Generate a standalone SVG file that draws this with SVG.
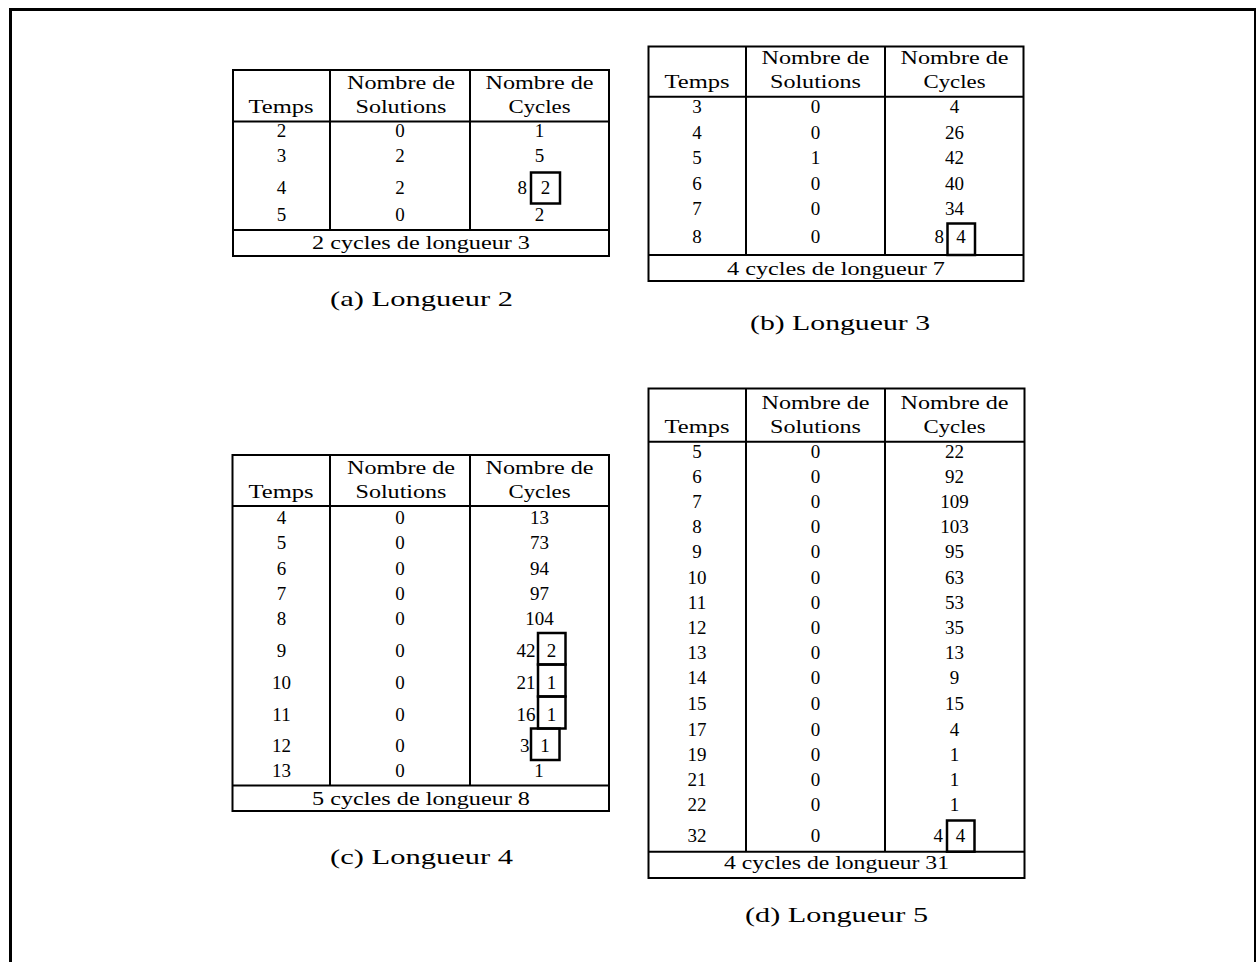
<svg xmlns="http://www.w3.org/2000/svg" width="1256" height="962" viewBox="0 0 1256 962">
<style>
text{font-family:"Liberation Serif","Times New Roman",serif;font-size:19px;fill:#000;text-anchor:middle}
text.e{text-anchor:end}
text.cap{font-size:22px}
.ln{stroke:#000;stroke-width:2;fill:none}
.bx{stroke:#000;stroke-width:2.5;fill:none}
</style>
<rect x="10.5" y="9.5" width="1245" height="1000" fill="#fff" stroke="#000" stroke-width="3"/>

<g id="table-a">
<rect class="ln" x="233" y="70" width="376" height="186"/>
<line class="ln" x1="233" y1="121.5" x2="609" y2="121.5"/>
<line class="ln" x1="330" y1="70" x2="330" y2="230"/>
<line class="ln" x1="470" y1="70" x2="470" y2="230"/>
<line class="ln" x1="233" y1="230" x2="609" y2="230"/>
<text x="401" y="89" textLength="108" lengthAdjust="spacingAndGlyphs">Nombre de</text>
<text x="539.5" y="89" textLength="108" lengthAdjust="spacingAndGlyphs">Nombre de</text>
<text x="281" y="113" textLength="65" lengthAdjust="spacingAndGlyphs">Temps</text>
<text x="401" y="113" textLength="91" lengthAdjust="spacingAndGlyphs">Solutions</text>
<text x="539.5" y="113" textLength="62" lengthAdjust="spacingAndGlyphs">Cycles</text>
<text x="281.5" y="137">2</text><text x="400" y="137">0</text><text x="539.5" y="137">1</text>
<text x="281.5" y="162">3</text><text x="400" y="162">2</text><text x="539.5" y="162">5</text>
<text x="281.5" y="194">4</text><text x="400" y="194">2</text><text class="e" x="527" y="194">8</text>
<rect class="bx" x="531" y="172.5" width="29" height="31"/><text x="545.5" y="194">2</text>
<text x="281.5" y="220.5">5</text><text x="400" y="220.5">0</text><text x="539.5" y="220.5">2</text>
<text x="421" y="249" textLength="218" lengthAdjust="spacingAndGlyphs">2 cycles de longueur 3</text>
<text class="cap" x="421.5" y="306" textLength="183" lengthAdjust="spacingAndGlyphs">(a) Longueur 2</text>
</g>

<g id="table-b">
<rect class="ln" x="648.5" y="46.5" width="375" height="234.5"/>
<line class="ln" x1="648.5" y1="96.7" x2="1023.5" y2="96.7"/>
<line class="ln" x1="746" y1="46.5" x2="746" y2="255"/>
<line class="ln" x1="885" y1="46.5" x2="885" y2="255"/>
<line class="ln" x1="648.5" y1="255" x2="1023.5" y2="255"/>
<text x="815.5" y="64" textLength="108" lengthAdjust="spacingAndGlyphs">Nombre de</text>
<text x="954.5" y="64" textLength="108" lengthAdjust="spacingAndGlyphs">Nombre de</text>
<text x="697" y="88.3" textLength="65" lengthAdjust="spacingAndGlyphs">Temps</text>
<text x="815.5" y="88.3" textLength="91" lengthAdjust="spacingAndGlyphs">Solutions</text>
<text x="954.5" y="88.3" textLength="62" lengthAdjust="spacingAndGlyphs">Cycles</text>
<text x="697" y="113">3</text><text x="815.5" y="113">0</text><text x="954.5" y="113">4</text>
<text x="697" y="138.5">4</text><text x="815.5" y="138.5">0</text><text x="954.5" y="138.5">26</text>
<text x="697" y="164">5</text><text x="815.5" y="164">1</text><text x="954.5" y="164">42</text>
<text x="697" y="189.5">6</text><text x="815.5" y="189.5">0</text><text x="954.5" y="189.5">40</text>
<text x="697" y="215">7</text><text x="815.5" y="215">0</text><text x="954.5" y="215">34</text>
<text x="697" y="243">8</text><text x="815.5" y="243">0</text><text class="e" x="944" y="243">8</text>
<rect class="bx" x="947.5" y="223.5" width="27.5" height="31.5"/><text x="961" y="243">4</text>
<text x="836" y="274.5" textLength="218" lengthAdjust="spacingAndGlyphs">4 cycles de longueur 7</text>
<text class="cap" x="840" y="330" textLength="180" lengthAdjust="spacingAndGlyphs">(b) Longueur 3</text>
</g>

<g id="table-c">
<rect class="ln" x="232.5" y="455" width="376.5" height="356"/>
<line class="ln" x1="232.5" y1="506" x2="609" y2="506"/>
<line class="ln" x1="330" y1="455" x2="330" y2="785.5"/>
<line class="ln" x1="470" y1="455" x2="470" y2="785.5"/>
<line class="ln" x1="232.5" y1="785.5" x2="609" y2="785.5"/>
<text x="401" y="474.3" textLength="108" lengthAdjust="spacingAndGlyphs">Nombre de</text>
<text x="539.5" y="474.3" textLength="108" lengthAdjust="spacingAndGlyphs">Nombre de</text>
<text x="281" y="498.3" textLength="65" lengthAdjust="spacingAndGlyphs">Temps</text>
<text x="401" y="498.3" textLength="91" lengthAdjust="spacingAndGlyphs">Solutions</text>
<text x="539.5" y="498.3" textLength="62" lengthAdjust="spacingAndGlyphs">Cycles</text>
<text x="281.5" y="524">4</text><text x="400" y="524">0</text><text x="539.5" y="524">13</text>
<text x="281.5" y="549">5</text><text x="400" y="549">0</text><text x="539.5" y="549">73</text>
<text x="281.5" y="574.5">6</text><text x="400" y="574.5">0</text><text x="539.5" y="574.5">94</text>
<text x="281.5" y="599.5">7</text><text x="400" y="599.5">0</text><text x="539.5" y="599.5">97</text>
<text x="281.5" y="624.5">8</text><text x="400" y="624.5">0</text><text x="539.5" y="624.5">104</text>
<text x="281.5" y="656.5">9</text><text x="400" y="656.5">0</text><text class="e" x="535.5" y="656.5">42</text>
<text x="281.5" y="688.5">10</text><text x="400" y="688.5">0</text><text class="e" x="535.5" y="688.5">21</text>
<text x="281.5" y="720.5">11</text><text x="400" y="720.5">0</text><text class="e" x="535.5" y="720.5">16</text>
<text x="281.5" y="751.5">12</text><text x="400" y="751.5">0</text><text class="e" x="529.5" y="751.5">3</text>
<text x="281.5" y="777">13</text><text x="400" y="777">0</text><text x="539" y="777">1</text>
<rect class="bx" x="538" y="633" width="27.5" height="31.5"/><text x="551.5" y="656.5">2</text>
<rect class="bx" x="538" y="664.5" width="27.5" height="32"/><text x="551.5" y="688.5">1</text>
<rect class="bx" x="538" y="696.5" width="27.5" height="32"/><text x="551.5" y="720.5">1</text>
<rect class="bx" x="531" y="728.5" width="28.5" height="31.5"/><text x="545" y="751.5">1</text>
<text x="421" y="804.5" textLength="218" lengthAdjust="spacingAndGlyphs">5 cycles de longueur 8</text>
<text class="cap" x="421.5" y="864" textLength="183" lengthAdjust="spacingAndGlyphs">(c) Longueur 4</text>
</g>

<g id="table-d">
<rect class="ln" x="648.5" y="388.5" width="376" height="489.5"/>
<line class="ln" x1="648.5" y1="441.7" x2="1024.5" y2="441.7"/>
<line class="ln" x1="746" y1="388.5" x2="746" y2="851.7"/>
<line class="ln" x1="885" y1="388.5" x2="885" y2="851.7"/>
<line class="ln" x1="648.5" y1="851.7" x2="1024.5" y2="851.7"/>
<text x="815.5" y="409.3" textLength="108" lengthAdjust="spacingAndGlyphs">Nombre de</text>
<text x="954.5" y="409.3" textLength="108" lengthAdjust="spacingAndGlyphs">Nombre de</text>
<text x="697" y="433.3" textLength="65" lengthAdjust="spacingAndGlyphs">Temps</text>
<text x="815.5" y="433.3" textLength="91" lengthAdjust="spacingAndGlyphs">Solutions</text>
<text x="954.5" y="433.3" textLength="62" lengthAdjust="spacingAndGlyphs">Cycles</text>
<text x="697" y="457.5">5</text><text x="815.5" y="457.5">0</text><text x="954.5" y="457.5">22</text>
<text x="697" y="482.7">6</text><text x="815.5" y="482.7">0</text><text x="954.5" y="482.7">92</text>
<text x="697" y="507.9">7</text><text x="815.5" y="507.9">0</text><text x="954.5" y="507.9">109</text>
<text x="697" y="533.1">8</text><text x="815.5" y="533.1">0</text><text x="954.5" y="533.1">103</text>
<text x="697" y="558.3">9</text><text x="815.5" y="558.3">0</text><text x="954.5" y="558.3">95</text>
<text x="697" y="583.5">10</text><text x="815.5" y="583.5">0</text><text x="954.5" y="583.5">63</text>
<text x="697" y="608.7">11</text><text x="815.5" y="608.7">0</text><text x="954.5" y="608.7">53</text>
<text x="697" y="633.9">12</text><text x="815.5" y="633.9">0</text><text x="954.5" y="633.9">35</text>
<text x="697" y="659.1">13</text><text x="815.5" y="659.1">0</text><text x="954.5" y="659.1">13</text>
<text x="697" y="684.3">14</text><text x="815.5" y="684.3">0</text><text x="954.5" y="684.3">9</text>
<text x="697" y="709.5">15</text><text x="815.5" y="709.5">0</text><text x="954.5" y="709.5">15</text>
<text x="697" y="735.5">17</text><text x="815.5" y="735.5">0</text><text x="954.5" y="735.5">4</text>
<text x="697" y="761">19</text><text x="815.5" y="761">0</text><text x="954.5" y="761">1</text>
<text x="697" y="786.2">21</text><text x="815.5" y="786.2">0</text><text x="954.5" y="786.2">1</text>
<text x="697" y="811.4">22</text><text x="815.5" y="811.4">0</text><text x="954.5" y="811.4">1</text>
<text x="697" y="841.5">32</text><text x="815.5" y="841.5">0</text><text class="e" x="943" y="841.5">4</text>
<rect class="bx" x="947" y="820.5" width="27.5" height="31.2"/><text x="960.5" y="841.5">4</text>
<text x="836.5" y="869" textLength="225" lengthAdjust="spacingAndGlyphs">4 cycles de longueur 31</text>
<text class="cap" x="836.5" y="921.5" textLength="183" lengthAdjust="spacingAndGlyphs">(d) Longueur 5</text>
</g>

<g id="connectors"></g>
</svg>
